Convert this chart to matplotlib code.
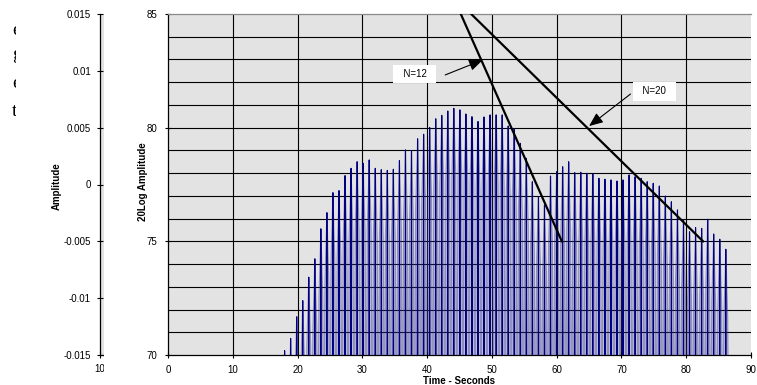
import matplotlib.pyplot as plt
from matplotlib.patches import Rectangle
from matplotlib.transforms import Bbox, TransformedBbox

plt.rcParams['font.family'] = ['Liberation Sans', 'DejaVu Sans']
plt.rcParams['font.size'] = 7

# peak times (s) and peak levels (dB) of each lobe of the trace
spike_times = [18.00, 18.93, 19.87, 20.80, 21.73, 22.67, 23.60, 24.53, 25.46, 26.40,
               27.33, 28.26, 29.20, 30.13, 31.06, 32.00, 32.93, 33.86, 34.79, 35.73,
               36.66, 37.59, 38.53, 39.46, 40.39, 41.33, 42.26, 43.19, 44.12, 45.06,
               45.99, 46.92, 47.86, 48.79, 49.72, 50.66, 51.59, 52.52, 53.45, 54.39,
               55.32, 56.25, 57.19, 58.12, 59.05, 59.99, 60.92, 61.85, 62.78, 63.72,
               64.65, 65.58, 66.52, 67.45, 68.38, 69.32, 70.25, 71.18, 72.11, 73.05,
               73.98, 74.91, 75.85, 76.78, 77.71, 78.65, 79.58, 80.51, 81.44, 82.38,
               83.31, 84.24, 85.18, 86.11]
spike_peaks = [70.19, 70.73, 71.68, 72.39, 73.42, 74.23, 75.55, 76.26, 77.14, 77.23,
               77.89, 78.21, 78.50, 78.43, 78.58, 78.21, 78.15, 78.12, 78.17, 78.55,
               79.02, 78.99, 79.51, 79.71, 80.01, 80.39, 80.54, 80.73, 80.85, 80.78,
               80.60, 80.48, 80.27, 80.47, 80.56, 80.56, 80.56, 80.07, 79.95, 79.31,
               78.65, 77.62, 76.96, 76.60, 77.87, 78.06, 78.28, 78.50, 78.02, 78.04,
               77.99, 77.96, 77.77, 77.73, 77.70, 77.65, 77.70, 77.92, 77.84, 77.77,
               77.62, 77.55, 77.43, 76.99, 76.74, 76.38, 75.94, 75.42, 75.61, 75.57,
               75.97, 75.32, 75.09, 74.65]

# decay slope lines
n12_t = [45.2, 60.8]
n12_db = [85.0, 75.0]
n20_t = [46.8, 82.6]
n20_db = [85.0, 75.0]

amp_ticks = [-0.015, -0.01, -0.005, 0, 0.005, 0.01, 0.015]
amp_labels = ['-0.015', '-0.01', '-0.005', '0', '0.005', '0.01', '0.015']
db_ticks = [70, 75, 80, 85]
db_grid = list(range(70, 86))
time_ticks = [0, 10, 20, 30, 40, 50, 60, 70, 80, 90]

W, H = 757, 385
fig = plt.figure(figsize=(W / 100, H / 100), dpi=100)


def box(x0, y0, x1, y1):
    # pixel box (top-left origin) -> figure fraction rect
    return [x0 / W, 1 - y1 / H, (x1 - x0) / W, (y1 - y0) / H]


# text that sits behind the first chart, only its left edge shows
clip = TransformedBbox(Bbox([[0, 0], [16 / W, 1]]), fig.transFigure)
for ch, yb in zip(['e', 'g', 'e', 't'], [35, 59, 88, 116]):
    t = fig.text(12 / W, 1 - yb / H, ch, family='Liberation Serif', fontsize=14,
                 va='baseline', ha='left')
    t.set_clip_box(clip)
    t.set_clip_on(True)

# amplitude chart (mostly hidden)
ax0 = fig.add_axes(box(100, 14, 400, 355))
ax0.set_zorder(0)
ax0.set_facecolor('#e3e3e3')
ax0.set_ylim(-0.015, 0.015)
ax0.set_yticks(amp_ticks, amp_labels)
ax0.set_xlim(10, 100)
ax0.set_xticks([10], ['10'])
ax0.tick_params(direction='inout', length=5, width=0.8, pad=4)
for s in ['top', 'right']:
    ax0.spines[s].set_visible(False)
for s in ['left', 'bottom']:
    ax0.spines[s].set_linewidth(0.9)
fig.text(57 / W, 1 - 186 / H, 'Amplitude', rotation=90, ha='center', va='center',
         fontweight='bold')

cover = Rectangle((103.5 / W, 0), 1, 1, transform=fig.transFigure,
                  facecolor='white', edgecolor='none', zorder=1)
fig.add_artist(cover)

# 20log amplitude chart
ax = fig.add_axes(box(168, 14, 751, 355))
ax.set_zorder(2)
ax.set_facecolor('#e3e3e3')
ax.set_xlim(0, 90)
ax.set_ylim(70, 85)
ax.set_xticks(time_ticks)
ax.set_yticks(db_ticks)
ax.tick_params(direction='inout', length=5, width=0.8, pad=5)
ax.hlines(db_grid[1:-1], 0, 90, color='black', lw=0.8, zorder=0.5)
ax.vlines(time_ticks[1:-1], 70, 85, color='black', lw=0.8, zorder=0.5)
ax.spines['right'].set_visible(False)
ax.spines['top'].set_color('#8a8a8a')
for s in ['left', 'bottom', 'top']:
    ax.spines[s].set_linewidth(0.9)

# each lobe: a dark narrow peak over a lighter, broader body
dark_x, dark_y, light_x, light_y = [], [], [], []
for t, p in zip(spike_times, spike_peaks):
    dark_x += [t - 0.1, t, t + 0.1]
    dark_y += [62.0, p, 62.0]
    light_x += [t - 0.47, t - 0.3, t, t + 0.3, t + 0.47]
    light_y += [66.0, p - 3.0, p, p - 3.0, 66.0]
ax.fill(light_x, light_y, color='#4646a8', alpha=0.24, lw=0, zorder=1.5)
ax.plot(light_x, light_y, color='#2a2a98', lw=0.8, alpha=0.4, zorder=2)
ax.plot(dark_x, dark_y, color='#000080', lw=0.8, zorder=3)

ax.plot(n12_t, n12_db, color='black', lw=1.6, zorder=4)
ax.plot(n20_t, n20_db, color='black', lw=1.6, zorder=4)

arrow = dict(arrowstyle='-|>,head_length=0.6,head_width=0.25', color='black',
             lw=0.8, mutation_scale=14, shrinkA=0, shrinkB=0)
ax.annotate('', xy=(48.6, 82.98), xytext=(42.8, 82.32), arrowprops=arrow, zorder=5)
ax.annotate('', xy=(65.0, 80.07), xytext=(71.4, 81.48), arrowprops=arrow, zorder=5)
bbox = dict(boxstyle='square,pad=0.45', facecolor='white', edgecolor='none')
ax.text(38.1, 82.36, '  N=12  ', ha='center', va='center', bbox=bbox, zorder=5)
ax.text(75.1, 81.6, '  N=20  ', ha='center', va='center', bbox=bbox, zorder=5)

fig.text(143 / W, 1 - 182 / H, '20Log Amplitude', rotation=90, ha='center',
         va='center', fontweight='bold')
fig.text(459 / W, 1 - 384.5 / H, 'Time - Seconds', ha='center', va='baseline',
         fontweight='bold')

fig.savefig('out.png', dpi=100)
